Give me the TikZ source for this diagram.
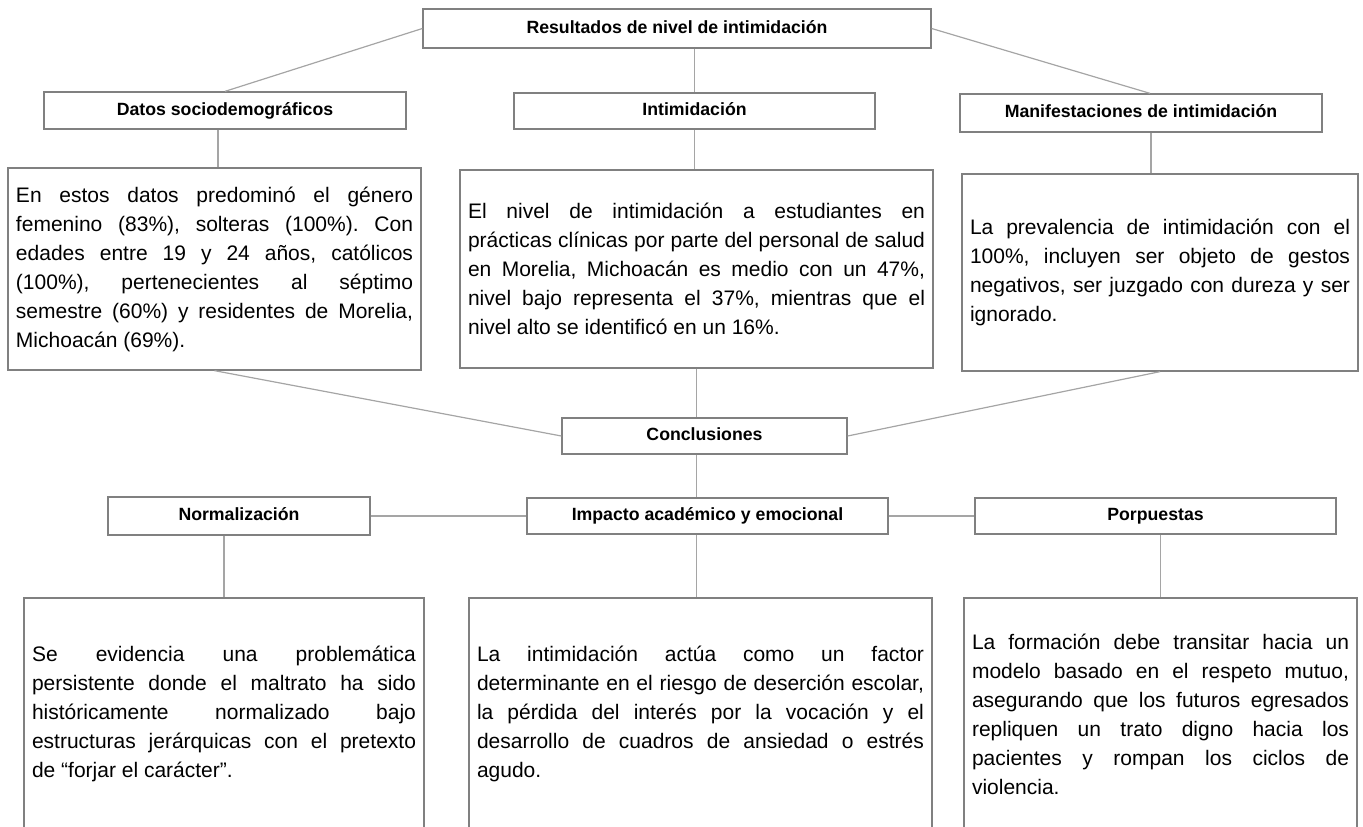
\documentclass[tikz,border=0pt]{standalone}
\usepackage{fontspec}
\setmainfont{Liberation Sans}
\usetikzlibrary{positioning}
\definecolor{boxgray}{RGB}{128,128,128}
\definecolor{linegray}{RGB}{165,165,165}
\frenchspacing

\begin{document}
\begin{tikzpicture}[x=1pt, y=-1pt,
    headbox/.style={rectangle, draw=boxgray, line width=1.3pt, inner sep=0pt,
                    text height=12.7pt, text depth=3.5pt,
                    font=\fontsize{17.7}{20}\selectfont\bfseries},
    textbox/.style={rectangle, draw=boxgray, line width=1.3pt, inner xsep=8pt,
                    inner ysep=0pt, align=justify,
                    font=\fontsize{21}{29}\selectfont},
    link/.style={draw=linegray, line width=1.2pt}
  ]
    \useasboundingbox (0,0) rectangle (1363,827);

    % upper level
    \node[headbox, minimum width=508, minimum height=39] (res) at (677,28.5)
      {Resultados de nivel de intimidación};
    \node[headbox, minimum width=362, minimum height=37] (datos) at (225,110.5)
      {Datos sociodemográficos};
    \node[headbox, minimum width=361, minimum height=36] (intim) at (694.5,111)
      {Intimidación};
    \node[headbox, minimum width=362, minimum height=38] (manif) at (1141,113)
      {Manifestaciones de intimidación};

    \node[textbox, text width=397, minimum height=202] (tdatos) at (214.5,269)
      {En estos datos predominó el género \linebreak
       femenino (83\%), solteras (100\%). Con \linebreak
       edades entre 19 y 24 años, católicos \linebreak
       (100\%), pertenecientes al séptimo \linebreak
       semestre (60\%) y residentes de Morelia, \linebreak
       Michoacán (69\%).};
    \node[textbox, text width=457, minimum height=198] (tintim) at (696.5,269)
      {El nivel de intimidación a estudiantes en \linebreak
       prácticas clínicas por parte del personal de salud \linebreak
       en Morelia, Michoacán es medio con un 47\%, \linebreak
       nivel bajo representa el 37\%, mientras que el \linebreak
       nivel alto se identificó en un 16\%.};
    \node[textbox, text width=380, minimum height=197] (tmanif) at (1160,272.5)
      {La prevalencia de intimidación con el \linebreak
       100\%, incluyen ser objeto de gestos \linebreak
       negativos, ser juzgado con dureza y ser \linebreak
       ignorado.};

    % lower level
    \node[headbox, minimum width=285, minimum height=36] (concl) at (704.5,436)
      {Conclusiones};
    \node[headbox, minimum width=262, minimum height=38] (norm) at (239,516)
      {Normalización};
    \node[headbox, minimum width=361, minimum height=36] (impact) at (707.5,516)
      {Impacto académico y emocional};
    \node[headbox, minimum width=361, minimum height=36] (porp) at (1155.5,516)
      {Porpuestas};

    \node[textbox, text width=384, minimum height=232] (tnorm) at (224,714)
      {Se evidencia una problemática \linebreak
       persistente donde el maltrato ha sido \linebreak
       históricamente normalizado bajo \linebreak
       estructuras jerárquicas con el pretexto \linebreak
       de “forjar el carácter”.};
    \node[textbox, text width=447, minimum height=232] (timpact) at (700.5,714)
      {La intimidación actúa como un factor \linebreak
       determinante en el riesgo de deserción escolar, \linebreak
       la pérdida del interés por la vocación y el \linebreak
       desarrollo de cuadros de ansiedad o estrés \linebreak
       agudo.};
    \node[textbox, text width=377, minimum height=232] (tporp) at (1160.5,714)
      {La formación debe transitar hacia un \linebreak
       modelo basado en el respeto mutuo, \linebreak
       asegurando que los futuros egresados \linebreak
       repliquen un trato digno hacia los \linebreak
       pacientes y rompan los ciclos de \linebreak
       violencia.};

    % connectors
    \draw[link] (res.west) -- (datos.north);
    \draw[link] (res.south -| intim.north) -- (intim.north);
    \draw[link] (res.east) -- ([xshift=9]manif.north);
    \draw[link] ([xshift=-7]datos.south) -- ([xshift=-7]datos.south |- tdatos.north);
    \draw[link] (intim.south) -- (intim.south |- tintim.north);
    \draw[link] ([xshift=10]manif.south) -- ([xshift=10]manif.south |- tmanif.north);

    \draw[link] (tdatos.south) -- (concl.west);
    \draw[link] (tintim.south) -- (tintim.south |- concl.north);
    \draw[link] (tmanif.south) -- (concl.east);
    \draw[link] (concl.south -| tintim.south) -- (impact.north -| tintim.south);
    \draw[link] (norm.east) -- (impact.west);
    \draw[link] (impact.east) -- (porp.west);

    \draw[link] (tnorm.north |- norm.south) -- (tnorm.north);
    \draw[link] (impact.south -| tintim.south) -- (timpact.north -| tintim.south);
    \draw[link] (tporp.north |- porp.south) -- (tporp.north);
  \end{tikzpicture}
\end{document}
